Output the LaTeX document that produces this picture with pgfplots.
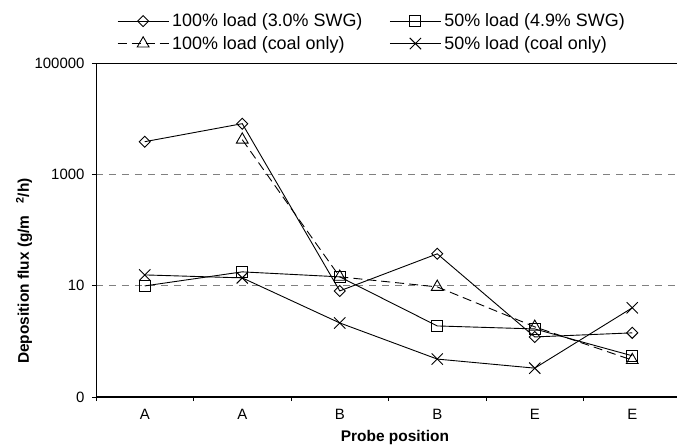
\documentclass[border=0pt]{standalone}
\usepackage{fontspec}
\setmainfont{Liberation Sans}
\usepackage{pgfplots}
\pgfplotsset{compat=1.18}
\begin{document}
\begin{tikzpicture}
\begin{axis}[
  scale only axis, width=585bp, height=334bp,
  at={(0,0)}, anchor=south west,
  ymode=log, ymin=0.1, ymax=100000,
  xmin=-0.5, xmax=5.5,
  axis x line*=bottom, axis y line*=left,
  x axis line style={line width=1.6bp},
  y axis line style={line width=0.9bp},
  xtick={-0.5,0.5,1.5,2.5,3.5,4.5,5.5},
  xticklabels={A,A,B,B,E,E},
  x tick label as interval,
  ytick={0.1,10,1000,100000},
  yticklabels={0,10,1000,100000},
  yminorticks=false,
  tick align=outside,
  major tick length=4bp,
  tick style={black, line width=0.8bp},
  ymajorgrids,
  major grid style={gray, line width=0.8bp, dash pattern=on 7bp off 6bp},
  /pgf/number format/assume math mode=true,
  font=\fontsize{15}{17}\selectfont,
  ticklabel style={font=\fontsize{15}{17}\selectfont},
  ylabel={\bfseries Deposition flux (g/m\hspace{0.75em}\textsuperscript{2}/h)},
  xlabel={\bfseries Probe position},
  ylabel style={font=\fontsize{15.5}{17}\selectfont, at={(axis description cs:-0.123,0.377)}, anchor=center, rotate=0},
  xlabel style={font=\fontsize{15.5}{17}\selectfont, at={(axis description cs:0.511,-0.12)}, anchor=center},
  xticklabel style={yshift=-5bp},
  yticklabel style={xshift=-4bp},
  legend columns=2,
  legend cell align=left,
  legend style={at={(0,1)}, anchor=south west, xshift=21bp, yshift=9bp,
    draw=none, fill=none, inner sep=0pt, font=\fontsize{18}{20}\selectfont,
    /tikz/every even column/.append style={column sep=24bp},
    row sep=2bp, nodes={inner sep=3bp}},
  every axis plot post/.append style={
    legend image code/.code={\draw[#1] (0bp,0bp) -- (51bp,0bp); \draw[#1,solid] plot coordinates {(25.5bp,0bp)};}},
  every axis plot/.append style={black, line width=0.9bp},
  clip=false,
]
\addplot[mark=square, mark size=3.9bp, mark options={solid, fill=white, rotate=45}] coordinates {
  (0,3860) (1,8130) (2,8.05) (3,37.3) (4,1.2) (5,1.42)};
\addlegendentry{100\% load (3.0\% SWG)}
\addplot[mark=square, mark size=5.5bp, mark options={solid, fill=white}] coordinates {
  (0,9.9) (1,17.7) (2,14.4) (3,1.89) (4,1.67) (5,0.55)};
\addlegendentry{50\% load (4.9\% SWG)}
\addplot[dash pattern=on 9bp off 5bp, mark=triangle, mark size=6.8bp, mark options={solid, fill=white}] coordinates {
  (1,4190) (2,14.4) (3,9.5) (4,1.82) (5,0.46)};
\addlegendentry{100\% load (coal only)}
\addplot[mark=x, mark size=8bp, mark options={solid}] coordinates {
  (0,15.6) (1,13.8) (2,2.14) (3,0.48) (4,0.33) (5,4.0)};
\addlegendentry{50\% load (coal only)}
\draw[line width=0.9bp] (rel axis cs:0,1) -- (rel axis cs:1,1);
\end{axis}
\pgfresetboundingbox
\path (-96bp,-51bp) rectangle (581bp,397bp);
\end{tikzpicture}
\end{document}
